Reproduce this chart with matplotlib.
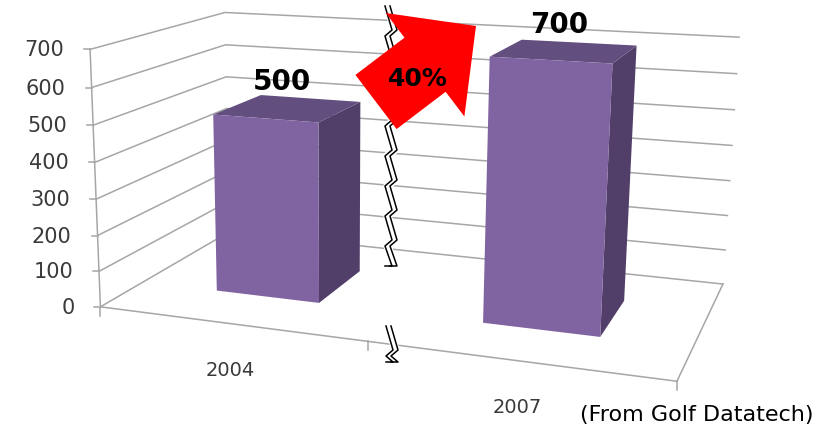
"""
Golf sales 2004 vs 2007 - Excel-style 3-D column chart with a broken axis
and a red growth arrow.
"""
import numpy as np
import matplotlib
matplotlib.use("Agg")
import matplotlib.pyplot as plt
from matplotlib.patches import Polygon, FancyArrow

# -- Data ----------------------------------------------------------------------
years = ["2004", "2007"]
sales = [500, 700]
value_ticks = [0, 100, 200, 300, 400, 500, 600, 700]
growth_label = "40%"
source_note = "(From Golf Datatech)"

# -- Camera --------------------------------------------------------------------
# world (category, depth, value) -> image pixel, fitted on the frame corners
W, H = 826, 432
anchors = [
    ((0, 0, 0),   (102, 306)),
    ((2, 0, 0),   (677, 382)),
    ((2, 1, 0),   (723, 283)),
    ((0, 1, 0),   (227, 233)),
    ((0, 0, 700), (88, 50)),
    ((0, 1, 700), (227, 12)),
    ((2, 1, 700), (738, 37)),
    ((0, 0, 400), (95, 162)),
    ((2, 1, 400), (733, 146)),
]
rows = []
for (x, y, z), (u, v) in anchors:
    X = [x, y, z / 100, 1]
    u, v = u / 100, v / 100
    rows.append(X + [0] * 4 + [-u * c for c in X])
    rows.append([0] * 4 + X + [-v * c for c in X])
_, _, vt = np.linalg.svd(np.array(rows, float))
P = vt[-1].reshape(3, 4)


def proj(x, y, z):
    p = P @ np.array([x, y, z / 100, 1.0])
    return 100 * p[0] / p[2], 100 * p[1] / p[2]


# -- Figure --------------------------------------------------------------------
fig = plt.figure(figsize=(W / 100, H / 100), dpi=100)
ax = fig.add_axes([0, 0, 1, 1])
ax.set_xlim(0, W)
ax.set_ylim(H, 0)
ax.axis("off")

GRID = "#a6a6a6"
TEXT = "#3a3a3a"
NCAT = len(years)
VMAX = value_ticks[-1]

# walls: side wall + back wall gridlines
for v in value_ticks:
    pts = [proj(0, 0, v), proj(0, 1, v), proj(NCAT, 1, v)]
    ax.plot(*zip(*pts), color=GRID, lw=1.1, zorder=1)

# floor front / right edges and value axis
floor = [proj(0, 0, 0), proj(NCAT, 0, 0), proj(NCAT, 1, 0)]
ax.plot(*zip(*floor), color=GRID, lw=1.1, zorder=1)
axis_pts = [proj(0, 0, 0), proj(0, 0, VMAX)]
ax.plot(*zip(*axis_pts), color=GRID, lw=1.1, zorder=1)

# value ticks + labels
for v in value_ticks:
    px, py = proj(0, 0, v)
    ax.plot([px - 6, px], [py, py], color=GRID, lw=1.1, zorder=1)
    ax.text(px - 26, py + 1, str(v), ha="right", va="center",
            fontsize=15, color=TEXT)

# category ticks + labels
for c in range(NCAT + 1):
    px, py = proj(c, 0, 0)
    ax.plot([px, px], [py, py + 9], color=GRID, lw=1.1, zorder=1)
for i, yr in enumerate(years):
    px, py = proj(i + 0.5, 0, 0)
    ax.text(px + 1, py + 47, yr, ha="center", va="center",
            fontsize=14, color=TEXT)

# bars
BX0, BX1 = 0.30, 0.70   # bar extent inside a category
BD0, BD1 = 0.30, 0.69   # bar extent in depth
FRONT, SIDE, TOP = "#8063a1", "#523f69", "#634e80"
for i, val in enumerate(sales):
    x0, x1 = i + BX0, i + BX1
    front = [proj(x0, BD0, 0), proj(x1, BD0, 0), proj(x1, BD0, val), proj(x0, BD0, val)]
    side = [proj(x1, BD0, 0), proj(x1, BD1, 0), proj(x1, BD1, val), proj(x1, BD0, val)]
    top = [proj(x0, BD0, val), proj(x1, BD0, val), proj(x1, BD1, val), proj(x0, BD1, val)]
    for poly, col in [(side, SIDE), (top, TOP), (front, FRONT)]:
        ax.add_patch(Polygon(poly, closed=True, fc=col, ec="none", zorder=3))
    cx, cy = proj((x0 + x1) / 2, (BD0 + BD1) / 2, val)
    ax.text(cx - 6, cy - 26, str(val), ha="center", va="center",
            fontsize=20, fontweight="bold", color="black", zorder=6)


# axis-break marks (double zig-zag)
def zigzag(y0, y1, xl, xr, period=30, rise=6):
    xs, ys = [xl], [y0]
    y = y0
    while y < y1:
        xs += [xr, xl]
        ys += [min(y + period - rise, y1), min(y + period, y1)]
        y += period
    return np.array(xs, float), np.array(ys, float)


for y0, y1, xl in [(6, 266, 385), (326, 362, 386)]:
    zx, zy = zigzag(y0, y1, xl, xl + 7)
    ax.plot(zx + 2.5, zy, color="white", lw=6, zorder=4, solid_capstyle="butt")
    ax.plot(zx, zy, color="black", lw=1.1, zorder=5)
    ax.plot(zx + 5, zy, color="black", lw=1.1, zorder=5)

# growth arrow
ax.add_patch(FancyArrow(376, 102, 100, -76, width=68, head_width=130,
                        head_length=64, length_includes_head=True,
                        fc="#ff0000", ec="none", zorder=7))
ax.text(418, 79, growth_label, ha="center", va="center",
        fontsize=18, fontweight="bold", color="black", zorder=8)

ax.text(813, 415, source_note, ha="right", va="center", fontsize=16, color="black")

fig.savefig("out.png", dpi=100)
